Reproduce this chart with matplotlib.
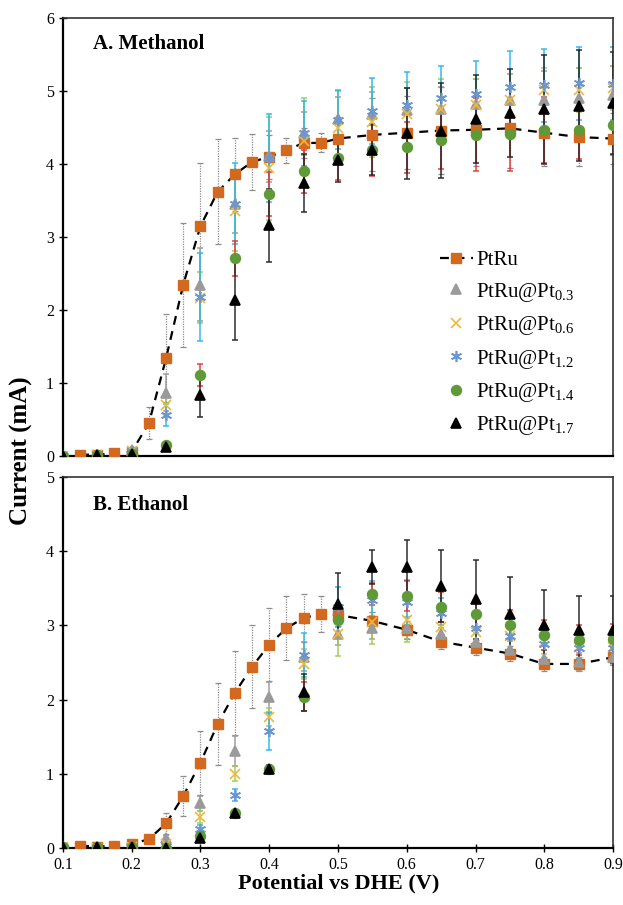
import matplotlib
matplotlib.use("Agg")
import matplotlib.pyplot as plt

plt.rcParams['font.family'] = ['Liberation Serif', 'DejaVu Serif']
plt.rcParams['mathtext.fontset'] = 'custom'
plt.rcParams['mathtext.rm'] = 'Liberation Serif'
plt.rcParams['mathtext.it'] = 'Liberation Serif:italic'
plt.rcParams['mathtext.bf'] = 'Liberation Serif:bold'

# potentials (V vs DHE)
x_ptru = [0.125, 0.15, 0.175, 0.2, 0.225, 0.25, 0.275, 0.3, 0.325, 0.35, 0.375, 0.4,
          0.425, 0.45, 0.475, 0.5, 0.55, 0.6, 0.65, 0.7, 0.75, 0.8, 0.85, 0.9]
x_pt = [0.1, 0.15, 0.2, 0.25, 0.3, 0.35, 0.4, 0.45, 0.5, 0.55, 0.6, 0.65, 0.7, 0.75,
        0.8, 0.85, 0.9]

# A. methanol
meoh_ptru = [0.02, 0.02, 0.04, 0.06, 0.45, 1.34, 2.35, 3.15, 3.62, 3.86, 4.03, 4.10,
             4.19, 4.29, 4.29, 4.35, 4.40, 4.43, 4.46, 4.47, 4.49, 4.43, 4.37, 4.35]
meoh_ptru_err = [0.01, 0.01, 0.01, 0.02, 0.22, 0.60, 0.85, 0.86, 0.72, 0.50, 0.38, 0.30,
                 0.17, 0.20, 0.13, 0.30, 0.50, 0.50, 0.60, 0.50, 0.55, 0.45, 0.40, 0.35]
meoh_pt03 = [0.0, 0.02, 0.08, 0.87, 2.35, 3.46, 4.11, 4.42, 4.62, 4.69, 4.74, 4.76, 4.82,
             4.88, 4.88, 4.91, 4.95]
meoh_pt03_err = [0.0, 0.01, 0.03, 0.25, 0.5, 0.4, 0.35, 0.3, 0.3, 0.3, 0.3, 0.3, 0.35,
                 0.35, 0.4, 0.4, 0.4]
meoh_pt06 = [0.0, 0.02, 0.07, 0.70, 2.17, 3.36, 3.94, 4.31, 4.50, 4.58, 4.68, 4.76, 4.81,
             4.88, 5.01, 5.01, 5.04]
meoh_pt06_err = [0.0, 0.01, 0.03, 0.15, 0.35, 0.55, 0.7, 0.6, 0.5, 0.48, 0.45, 0.4, 0.35,
                 0.35, 0.3, 0.3, 0.3]
meoh_pt12 = [0.0, 0.02, 0.07, 0.56, 2.18, 3.46, 4.08, 4.42, 4.61, 4.73, 4.81, 4.90, 4.96,
             5.05, 5.08, 5.11, 5.10]
meoh_pt12_err = [0.0, 0.01, 0.03, 0.15, 0.6, 0.55, 0.6, 0.45, 0.4, 0.45, 0.45, 0.45, 0.45,
                 0.5, 0.5, 0.5, 0.5]
meoh_pt14 = [0.0, 0.01, 0.03, 0.15, 1.11, 2.71, 3.59, 3.90, 4.08, 4.19, 4.23, 4.33, 4.40,
             4.41, 4.47, 4.47, 4.53]
meoh_pt14_err = [0.0, 0.01, 0.01, 0.03, 0.15, 0.24, 0.3, 0.3, 0.3, 0.35, 0.35, 0.4, 0.5,
                 0.5, 0.45, 0.4, 0.4]
meoh_pt17 = [0.0, 0.01, 0.03, 0.13, 0.84, 2.14, 3.16, 3.74, 4.05, 4.20, 4.42, 4.46, 4.62,
             4.70, 4.75, 4.80, 4.84]
meoh_pt17_err = [0.0, 0.01, 0.01, 0.03, 0.3, 0.55, 0.5, 0.4, 0.3, 0.35, 0.62, 0.65, 0.6,
                 0.6, 0.75, 0.76, 0.7]

# B. ethanol
etoh_ptru = [0.03, 0.02, 0.03, 0.05, 0.12, 0.33, 0.70, 1.15, 1.67, 2.09, 2.44, 2.74,
             2.96, 3.10, 3.15, 3.14, 3.06, 2.94, 2.78, 2.70, 2.62, 2.48, 2.48, 2.57]
etoh_ptru_err = [0.01, 0.01, 0.01, 0.02, 0.04, 0.14, 0.27, 0.43, 0.55, 0.57, 0.56, 0.49,
                 0.43, 0.32, 0.24, 0.15, 0.12, 0.12, 0.10, 0.10, 0.10, 0.10, 0.10, 0.10]
etoh_pt03 = [0.01, 0.0, 0.03, 0.13, 0.60, 1.31, 2.03, 2.58, 2.89, 2.97, 2.96, 2.89, 2.78,
             2.67, 2.55, 2.51, 2.58]
etoh_pt03_err = [0.0, 0.0, 0.01, 0.05, 0.1, 0.2, 0.2, 0.2, 0.15, 0.15, 0.15, 0.12, 0.12,
                 0.12, 0.12, 0.12, 0.12]
etoh_pt06 = [0.01, 0.0, 0.02, 0.05, 0.42, 1.00, 1.76, 2.48, 2.89, 3.05, 3.07, 2.98, 2.91,
             2.85, 2.77, 2.71, 2.71]
etoh_pt06_err = [0.0, 0.0, 0.01, 0.03, 0.08, 0.1, 0.12, 0.2, 0.3, 0.3, 0.3, 0.2, 0.2,
                 0.15, 0.15, 0.15, 0.15]
etoh_pt12 = [0.01, 0.0, 0.02, 0.03, 0.26, 0.71, 1.57, 2.60, 3.25, 3.34, 3.31, 3.17, 2.96,
             2.85, 2.75, 2.69, 2.69]
etoh_pt12_err = [0.0, 0.0, 0.01, 0.02, 0.05, 0.08, 0.25, 0.3, 0.27, 0.26, 0.3, 0.2, 0.2,
                 0.2, 0.2, 0.15, 0.15]
etoh_pt14 = [0.02, 0.01, 0.01, 0.0, 0.16, 0.47, 1.06, 2.04, 3.07, 3.42, 3.40, 3.25, 3.15,
             3.01, 2.87, 2.80, 2.82]
etoh_pt14_err = [0.0, 0.0, 0.0, 0.0, 0.03, 0.03, 0.05, 0.2, 0.2, 0.15, 0.2, 0.2, 0.2, 0.2,
                 0.2, 0.2, 0.2]
etoh_pt17 = [0.01, 0.01, 0.01, 0.0, 0.13, 0.47, 1.06, 2.10, 3.29, 3.79, 3.78, 3.53, 3.35,
             3.15, 3.00, 2.94, 2.94]
etoh_pt17_err = [0.0, 0.0, 0.0, 0.0, 0.03, 0.03, 0.06, 0.25, 0.41, 0.23, 0.37, 0.49, 0.53,
                 0.5, 0.47, 0.46, 0.45]

labels = ['PtRu', r'PtRu@Pt$_{\mathrm{0.3}}$', r'PtRu@Pt$_{\mathrm{0.6}}$',
          r'PtRu@Pt$_{\mathrm{1.2}}$', r'PtRu@Pt$_{\mathrm{1.4}}$', r'PtRu@Pt$_{\mathrm{1.7}}$']

# marker, marker color, size, errorbar color
styles = [
    ('s', '#D2691E', 7, '#8c8c8c'),
    ('^', '#9a9a9a', 7, '#9a9a9a'),
    ('x', '#F0B83A', 7, '#9ACD50'),
    ((6, 2, 0), '#6A97CE', 8, '#2BB5EC'),
    ('o', '#5E9A37', 7, '#F03030'),
    ('^', '#000000', 6.5, '#222222'),
]


def draw_panel(ax, ptru, ptru_err, series, errs):
    m, c, ms, ec = styles[0]
    eb = ax.errorbar(x_ptru, ptru, yerr=ptru_err, fmt='none', ecolor=ec, elinewidth=0.9,
                     capsize=2.5, capthick=0.9, zorder=2)
    for lc in eb[2]:
        lc.set_linestyle((0, (1, 1)))
    ax.plot(x_ptru, ptru, ls=(0, (4, 3)), color='black', lw=1.6, marker=m, ms=ms,
            mfc=c, mec=c, label=labels[0], zorder=3)
    for i, (vals, err) in enumerate(zip(series, errs)):
        m, c, ms, ec = styles[i + 1]
        ax.errorbar(x_pt, vals, yerr=err, fmt='none', ecolor=ec, elinewidth=1.3,
                    capsize=2.5, capthick=1.3, alpha=0.8, zorder=2)
        ax.plot(x_pt, vals, ls='none', marker=m, ms=ms, color=c, mew=1.2,
                label=labels[i + 1], zorder=4)


fig = plt.figure(figsize=(6.23, 9.05), dpi=100)
ax1 = fig.add_axes([0.101, 0.496, 0.883, 0.484])
ax2 = fig.add_axes([0.101, 0.063, 0.883, 0.410])

draw_panel(ax1, meoh_ptru, meoh_ptru_err,
           [meoh_pt03, meoh_pt06, meoh_pt12, meoh_pt14, meoh_pt17],
           [meoh_pt03_err, meoh_pt06_err, meoh_pt12_err, meoh_pt14_err, meoh_pt17_err])
draw_panel(ax2, etoh_ptru, etoh_ptru_err,
           [etoh_pt03, etoh_pt06, etoh_pt12, etoh_pt14, etoh_pt17],
           [etoh_pt03_err, etoh_pt06_err, etoh_pt12_err, etoh_pt14_err, etoh_pt17_err])

for ax, ymax in [(ax1, 6), (ax2, 5)]:
    ax.set_xlim(0.1, 0.9)
    ax.set_ylim(0, ymax)
    ax.set_yticks(range(ymax + 1))
    ax.tick_params(axis='y', direction='inout', length=6, width=1, labelsize=11.5)
    for s in ['left', 'bottom']:
        ax.spines[s].set_linewidth(1.6)
        ax.spines[s].set_color('black')
    for s in ['top', 'right']:
        ax.spines[s].set_linewidth(1.2)
        ax.spines[s].set_color('#333333')

ax1.tick_params(axis='x', bottom=False, labelbottom=False)
ax2.set_xticks([0.1, 0.2, 0.3, 0.4, 0.5, 0.6, 0.7, 0.8, 0.9])
ax2.set_xticklabels(['0.1', '0.2', '0.3', '0.4', '0.5', '0.6', '0.7', '0.8', '0.9'])
ax2.tick_params(axis='x', direction='inout', length=6, width=1, labelsize=11.5)

ax1.text(0.055, 0.94, 'A. Methanol', transform=ax1.transAxes, fontsize=15,
         fontweight='bold', va='center', ha='left')
ax2.text(0.055, 0.925, 'B. Ethanol', transform=ax2.transAxes, fontsize=15,
         fontweight='bold', va='center', ha='left')

ax1.legend(loc='lower left', bbox_to_anchor=(0.651, 0.0), frameon=False, fontsize=15,
           handlelength=1.6, handletextpad=0.15, labelspacing=0.5, borderpad=0.4)

fig.text(0.035, 0.502, 'Current (mA)', rotation=90, fontsize=18, fontweight='bold',
         ha='center', va='center')
fig.text(0.543, 0.024, 'Potential vs DHE (V)', fontsize=16, fontweight='bold',
         ha='center', va='center')

fig.savefig('out.png', dpi=100)
